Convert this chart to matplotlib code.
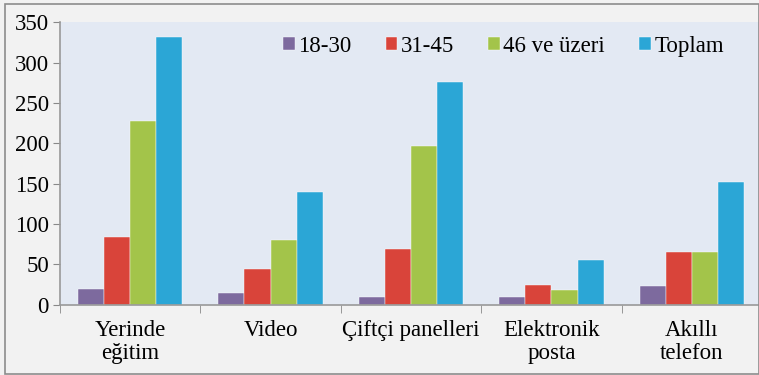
import numpy as np
import matplotlib
matplotlib.use("Agg")
import matplotlib.pyplot as plt
from matplotlib.patches import Rectangle

categories = ["Yerinde\neğitim", "Video", "Çiftçi panelleri", "Elektronik\nposta", "Akıllı\ntelefon"]
series_names = ["18-30", "31-45", "46 ve üzeri", "Toplam"]
age_18_30 = [20, 15, 10, 10, 23]
age_31_45 = [84, 45, 69, 25, 65]
age_46_up = [228, 80, 197, 19, 65]
toplam = [332, 140, 276, 55, 152]
y_ticks = [0, 50, 100, 150, 200, 250, 300, 350]

colors = ["#7d6a9e", "#d9443a", "#a3c44a", "#2ba6d6"]

plt.rcParams["font.family"] = ["Liberation Serif", "DejaVu Serif"]

fig = plt.figure(figsize=(7.59, 3.75), dpi=100, facecolor="#f2f2f2")
fig.patches.append(Rectangle((0.006, 0.004), 0.994, 0.985, transform=fig.transFigure,
                             fill=False, edgecolor="#8c8c8c", linewidth=1.2))
ax = fig.add_axes([0.079, 0.187, 0.925, 0.754])
ax.set_facecolor("#e3e9f3")

x = np.arange(len(categories))
width = 0.186
for i, (vals, name) in enumerate(zip([age_18_30, age_31_45, age_46_up, toplam], series_names)):
    offs = (i - 1.5) * width
    ax.bar(x + offs, vals, width=width, color=colors[i], label=name,
           edgecolor="#ffffff", linewidth=0.3)

ax.set_xlim(-0.5, len(categories) - 0.5)
ax.set_ylim(0, 350)
ax.set_yticks(y_ticks)
ax.tick_params(axis="y", labelsize=16.5, length=5, color="#888888", pad=3)
ax.set_xticks(x)
ax.set_xticklabels(categories, fontsize=16.5, linespacing=1.1)
ax.tick_params(axis="x", length=0, pad=11)
ax.set_xticks(np.arange(len(categories) + 1) - 0.5, minor=True)
ax.tick_params(axis="x", which="minor", length=6, color="#888888")

for s in ["top", "right"]:
    ax.spines[s].set_visible(False)
for s in ["left", "bottom"]:
    ax.spines[s].set_color("#999999")
    ax.spines[s].set_linewidth(1.2)

ax.legend(loc="upper right", bbox_to_anchor=(0.975, 1.025), ncol=4, frameon=False,
          fontsize=16.5, handlelength=0.5, handleheight=0.5, handletextpad=0.15,
          columnspacing=1.5)

fig.savefig("out.png", dpi=100, facecolor=fig.get_facecolor())
